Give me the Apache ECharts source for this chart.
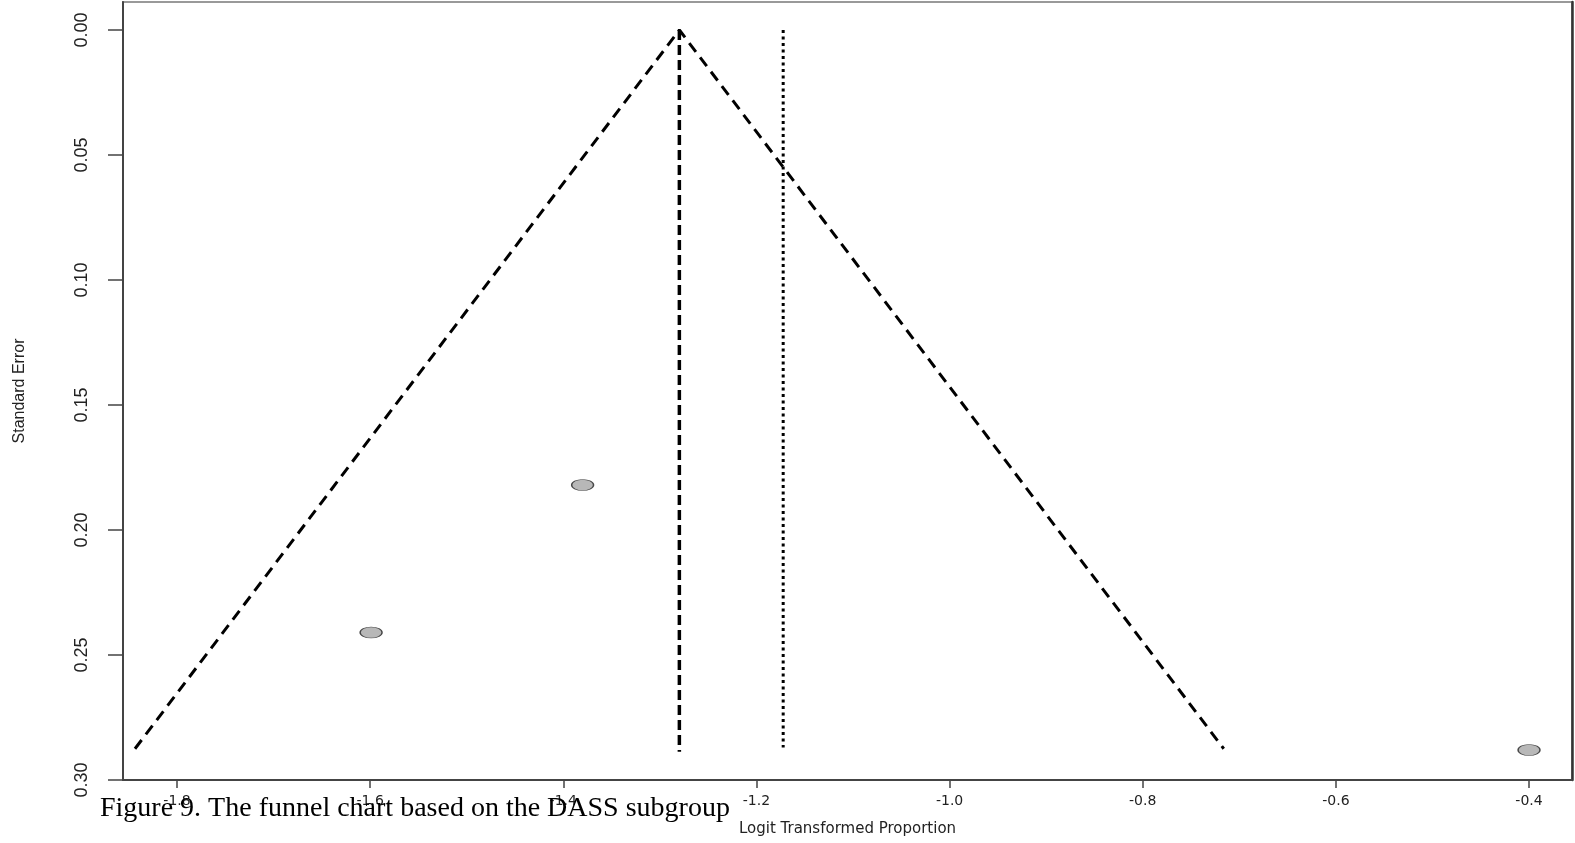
<!DOCTYPE html>
<html>
<head>
<meta charset="utf-8">
<script src="https://cdn.jsdelivr.net/npm/echarts@6.0.0/dist/echarts.min.js"></script>
<style>
  html, body { margin: 0; padding: 0; background: #fff; }
  #chart { width: 1575px; height: 843px; }
</style>
</head>
<body>
<div id="chart"></div>
<script>
// ---- data ----
var studyX = [-1.380, -1.599, -0.400];          // logit transformed proportion
var studySE = [0.182, 0.241, 0.288];             // standard error
var funnelX = [-1.8435, -1.2798, -0.7161];       // pseudo-CI funnel (left, apex, right)
var funnelY = [0.2875, 0.0, 0.2875];
var fixedX = [-1.2798, -1.2798];                 // pooled estimate line (dashed)
var fixedY = [0.0, 0.2887];
var randomX = [-1.1723, -1.1723];                // second estimate line (dotted)
var randomY = [0.0, 0.287];
var xTicks = [-1.8, -1.6, -1.4, -1.2, -1.0, -0.8, -0.6, -0.4];
var yTicks = [0.00, 0.05, 0.10, 0.15, 0.20, 0.25, 0.30];
var xTitle = 'Logit Transformed Proportion';
var yTitle = 'Standard Error';
var caption = 'Figure 9. The funnel chart based on the DASS subgroup';

function pairs(xs, ys) { return xs.map(function (x, i) { return [x, ys[i]]; }); }

var chart = echarts.init(document.getElementById('chart'), null, { renderer: 'canvas' });
var axisColor = '#444';
var option = {
  animation: false,
  backgroundColor: '#ffffff',
  grid: {
    left: 123, right: 3, top: 2, bottom: 63,
    show: true, borderColor: '#999', borderWidth: 2, backgroundColor: 'transparent'
  },
  xAxis: {
    type: 'value',
    min: -1.8559, max: -0.3555,
    name: xTitle,
    nameLocation: 'middle',
    nameGap: 42,
    nameTextStyle: { fontFamily: 'DejaVu Sans', fontSize: 15, color: '#222' },
    axisLine: { show: true, onZero: false, lineStyle: { color: axisColor, width: 2 } },
    axisTick: { show: true, length: 8, customValues: xTicks, lineStyle: { color: axisColor, width: 1.5 } },
    axisLabel: {
      customValues: xTicks, margin: 14,
      fontFamily: 'DejaVu Sans', fontSize: 14, color: '#222',
      formatter: function (v) { return v.toFixed(1); }
    },
    splitLine: { show: false }
  },
  yAxis: [{
    type: 'value',
    inverse: true,
    min: -0.0112, max: 0.30,
    name: yTitle,
    nameLocation: 'middle',
    nameRotate: 90,
    nameGap: 95,
    nameTextStyle: { fontFamily: 'Liberation Sans Narrow, Liberation Sans', fontSize: 16, color: '#222' },
    axisLine: { show: true, onZero: false, lineStyle: { color: axisColor, width: 2 } },
    axisTick: { show: true, length: 15, customValues: yTicks, lineStyle: { color: axisColor, width: 1.5 } },
    axisLabel: {
      customValues: yTicks, rotate: 90, margin: 32,
      fontFamily: 'Liberation Sans Narrow, Liberation Sans', fontSize: 18, color: '#222',
      formatter: function (v) { return v.toFixed(2); }
    },
    splitLine: { show: false }
  }, {
    type: 'value',
    inverse: true,
    position: 'right',
    min: -0.0112, max: 0.30,
    axisLine: { show: true, onZero: false, lineStyle: { color: '#333', width: 2.5 } },
    axisTick: { show: false },
    axisLabel: { show: false },
    splitLine: { show: false }
  }],
  series: [
    {
      type: 'line', name: 'funnel',
      data: pairs(funnelX, funnelY),
      symbol: 'none',
      lineStyle: { color: '#000', width: 3, type: [11, 7] },
      z: 3
    },
    {
      type: 'line', name: 'fixed',
      data: pairs(fixedX, fixedY),
      symbol: 'none',
      lineStyle: { color: '#000', width: 3.5, type: [10, 5] },
      z: 3
    },
    {
      type: 'line', name: 'random',
      data: pairs(randomX, randomY),
      symbol: 'none',
      lineStyle: { color: '#000', width: 3, type: [3, 3.5] },
      z: 3
    },
    {
      type: 'scatter', name: 'studies',
      data: pairs(studyX, studySE),
      symbol: 'circle',
      symbolSize: [22, 11],
      itemStyle: { color: '#a6a6a6', borderColor: '#222', borderWidth: 1 },
      z: 4
    }
  ],
  graphic: [{
    type: 'text',
    left: 100, top: 795,
    z: 100,
    style: {
      text: caption,
      font: '28px "Liberation Serif", "Times New Roman", serif',
      fill: '#000'
    }
  }]
};
chart.setOption(option);
</script>
</body>
</html>
